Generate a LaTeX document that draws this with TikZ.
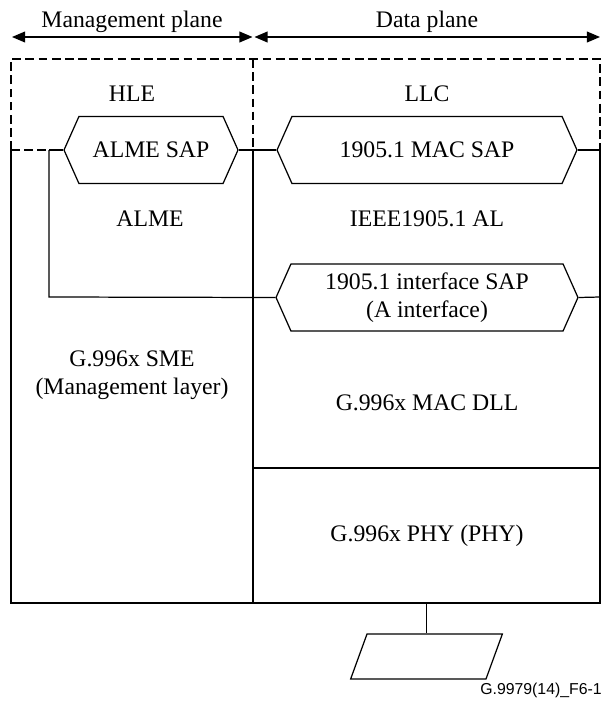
\documentclass[tikz,border=0pt]{standalone}
\usepackage{fontspec}
\setmainfont{Liberation Serif}
\newfontfamily\tagfont{Liberation Sans}
\usetikzlibrary{arrows.meta, shapes.symbols, shapes.geometric}

\tikzset{
	solidline/.style = {line width = 0.7pt},
	dashline/.style = {line width = 0.7pt, dash pattern = on 5pt off 2.5pt},
	sap/.style = {draw, line width = 0.7pt, shape = signal, signal to = west and east, signal pointer angle = 132, minimum height = 1.34cm, inner sep = 0pt, align = center},
	plane/.style = {line width = 0.8pt, {Triangle[length = 7.5pt, width = 6.2pt]}-{Triangle[length = 7.5pt, width = 6.2pt]}},
}

\begin{document}
\begin{tikzpicture}[x = 0.02cm, y = -0.02cm, font = \fontsize{13.5}{16}\selectfont]
	\useasboundingbox (0,0) rectangle (603,703);
	
	\coordinate (mgmtL) at (12,37);
	\coordinate (mgmtR) at (252.5,37);
	\coordinate (dataL) at (254.5,37);
	\coordinate (dataR) at (600,37);
	
	\coordinate (tl) at (11,59);
	\coordinate (tr) at (600,59);
	\coordinate (ml) at (11,150);
	\coordinate (mr) at (600,150);
	\coordinate (bl) at (11,603);
	\coordinate (br) at (600,603);
	\coordinate (dt) at (253,59);
	\coordinate (dm) at (253,150);
	\coordinate (db) at (253,603);
	\coordinate (tap) at (49,150);
	\coordinate (tapb) at (49,297);
	\coordinate (ifr) at (600,297);
	\coordinate (split) at (253,468);
	\coordinate (splitr) at (600,468);
	
	\node (mgmt) at (132,22) {Management plane};
	\node (data) at (427,22) {Data plane};
	\node (hle) at (132,94) {HLE};
	\node (llc) at (427,94) {LLC};
	\node [sap, minimum width = 3.48cm] (almesap) at (151,150) {ALME SAP};
	\node [sap, minimum width = 6cm] (macsap) at (427,150) {1905.1 MAC SAP};
	\node (alme) at (150,219) {ALME};
	\node (al) at (427,219) {IEEE1905.1 AL};
	\node [sap, minimum width = 6.04cm] (ifsap) at (427,297.5) {1905.1 interface SAP\\(A interface)};
	\node [align = center] (sme) at (132,375) {G.996x SME\\(Management layer)};
	\node (dll) at (427,403) {G.996x MAC DLL};
	\node (phy) at (427,536) {G.996x PHY (PHY)};
	\node [draw, solidline, trapezium, trapezium left angle = 70, trapezium right angle = 110, inner xsep = 1.19cm, inner ysep = 0.45cm] (medium) at (426.5,656.5) {};
	\node [anchor = east, inner sep = 0pt, font = \tagfont\fontsize{9}{10}\selectfont] (tag) at (602,690) {G.9979(14)\_F6-1};
	
	\draw [plane] (mgmtL) -- (mgmtR);
	\draw [plane] (dataL) -- (dataR);
	
	\draw [dashline] (ml) -- (tl) -- (tr) -- (mr);
	\draw [dashline] (dt) -- (dm);
	\draw [dashline] (ml) -- (tap);
	\draw [solidline] (ml) -- (bl) -- (br) -- (mr);
	\draw [solidline] (dm) -- (db);
	\draw [solidline] (split) -- (splitr);
	
	\draw [solidline] (tap) -- (almesap.west);
	\draw [solidline] (almesap.east) -- (macsap.west);
	\draw [solidline] (macsap.east) -- (mr);
	\draw [solidline] (tap) -- (tapb) -- (ifsap.west);
	\draw [solidline] (ifsap.east) -- (ifr);
	\draw [solidline] (br -| medium.north) -- (medium.north);
\end{tikzpicture}
\end{document}
